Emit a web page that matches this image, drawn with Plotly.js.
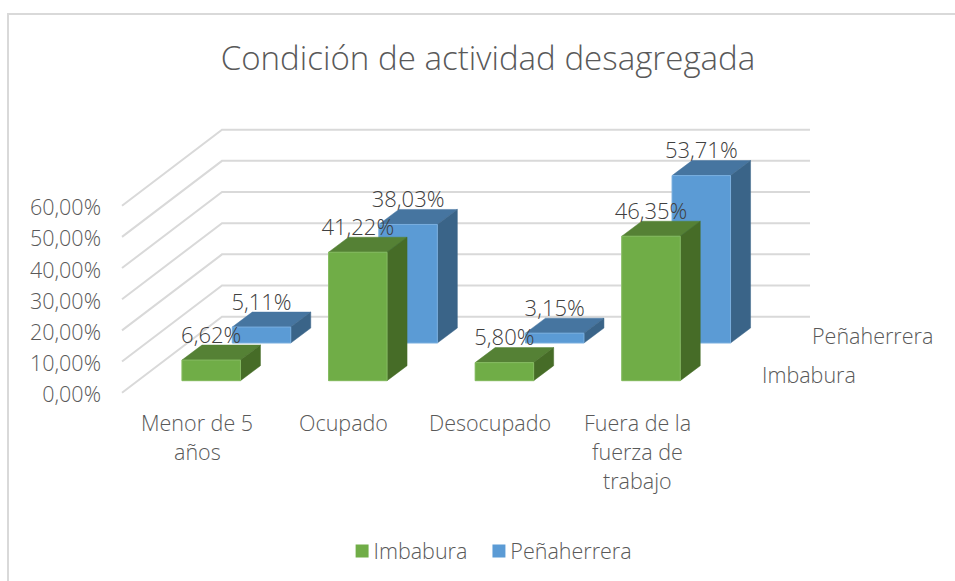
<!DOCTYPE html>
<html><head><meta charset="utf-8">
<script src="https://cdn.plot.ly/plotly-3.0.1.min.js"></script>
<style>
html,body{margin:0;padding:0;background:#fff;overflow:hidden}
#frame{position:absolute;left:7px;top:13px;width:948px;height:568px;border-left:2px solid #d9d9d9;border-top:2px solid #d9d9d9;box-sizing:border-box}
#chart{position:absolute;left:0;top:0;width:955px;height:581px}
</style></head><body>
<div id="frame"></div><div id="chart"></div>
<script>
const categories = [["Menor de 5","años"],["Ocupado"],["Desocupado"],["Fuera de la","fuerza de","trabajo"]];
const imbabura = [6.62,41.22,5.80,46.35];
const penaherrera = [5.11,38.03,3.15,53.71];
const yTicks = [0,10,20,30,40,50,60];
const seriesNames = ["Imbabura","Peñaherrera"];

const FONT = '"Open Sans", sans-serif';
const GREY = '#595959';
const TXT = {family:FONT,size:21.5,color:GREY,weight:300};
// pixel calibration of the axes
const plot = {l:102,r:850,t:100,b:578};
const x0px=197.2, catPx=146.6, y0px=392.7, valPx=3.117;
const xr=[(plot.l-x0px)/catPx,(plot.r-x0px)/catPx];
const yr=[(y0px-plot.b)/valPx,(y0px-plot.t)/valPx];
const pxX=p=>(p-x0px)/catPx, pxY=p=>(y0px-p)/valPx;
const dX=px=>px/catPx, dY=px=>px/valPx;
const barW=dX(58.5);
const fmt=v=>v.toFixed(2).replace('.',',')+'%';
// oblique offset of each row of bars from the floor's front edge, and bar thickness
const rowG={x:dX(14),y:dY(12)}, rowB={x:dX(64.3),y:dY(49.7)}, thick={x:dX(20),y:dY(15)};

function faces(vals,row,colors){
  const xs={front:[],side:[],top:[]}, ys={front:[],side:[],top:[]};
  vals.forEach((v,i)=>{
    const xc=i+row.x, a=xc-barW/2, b=xc+barW/2, f=row.y;
    xs.side.push(b,b+thick.x,b+thick.x,b,b,null); ys.side.push(f,f+thick.y,f+thick.y+v,f+v,f,null);
    xs.top.push(a,a+thick.x,b+thick.x,b,a,null); ys.top.push(f+v,f+v+thick.y,f+v+thick.y,f+v,f+v,null);
    xs.front.push(a,b,b,a,a,null); ys.front.push(f,f,f+v,f+v,f,null);
  });
  return ['top','side','front'].map(k=>({type:'scatter',mode:'lines',x:xs[k],y:ys[k],fill:'toself',fillcolor:colors[k],
      line:{color:k==='front'?colors.edge:colors[k],width:k==='front'?1:0.5},showlegend:false,hoverinfo:'skip'}));
}
const greenC={front:'#70ad47',top:'#558135',side:'#466c27',edge:'#86bb62'};
const blueC={front:'#5b9bd5',top:'#4675a0',side:'#3a6488',edge:'#7aafdf'};

function realBars(vals,row,color,name){
  return {type:'bar',name,x:vals.map((v,i)=>i+row.x),y:vals,base:vals.map(()=>row.y),
    width:barW,marker:{color},hoverinfo:'skip'};
}
function labels(vals,row){
  return {type:'scatter',mode:'text',x:vals.map((v,i)=>i+row.x),
    y:vals.map(v=>row.y+v+dY(23)),
    text:vals.map(fmt),
    textposition:'middle center',textfont:{family:FONT,size:22,color:'#404040',weight:300},
    showlegend:false,hoverinfo:'skip',cliponaxis:false};
}
const gx=[],gy=[];
yTicks.forEach(t=>{
  const s=pxX(122), back=s+dX(100);
  gx.push(s,back,back+dX(588),null);
  gy.push(t,t+dY(76),t+dY(76),null);
});
const grid={type:'scatter',mode:'lines',x:gx,y:gy,line:{color:'#d9d9d9',width:2},showlegend:false,hoverinfo:'skip'};

const data=[
  realBars(imbabura,rowG,greenC.front,seriesNames[0]),
  realBars(penaherrera,rowB,blueC.front,seriesNames[1]),
  grid,
  ...faces(penaherrera,rowB,blueC),
  ...faces(imbabura,rowG,greenC),
  labels(penaherrera,rowB),labels(imbabura,rowG)
];
const annotations=[];
categories.forEach((lines,i)=>lines.forEach((ln,j)=>annotations.push({
  xref:'x',yref:'y',x:i,y:pxY(422+29*j),text:ln,showarrow:false,xanchor:'center',yanchor:'middle',
  font:TXT})));
annotations.push({xref:'x',yref:'y',x:pxX(812),y:pxY(335),text:seriesNames[1],showarrow:false,xanchor:'left',yanchor:'middle',xshift:-2,font:TXT});
annotations.push({xref:'x',yref:'y',x:pxX(762),y:pxY(374),text:seriesNames[0],showarrow:false,xanchor:'left',yanchor:'middle',xshift:-2,font:TXT});

const layout={
  width:955,height:581,autosize:false,paper_bgcolor:'rgba(0,0,0,0)',plot_bgcolor:'rgba(0,0,0,0)',
  barmode:'overlay',
  margin:{l:plot.l,r:955-plot.r,t:plot.t,b:581-plot.b,pad:0},
  title:{text:'Condición de actividad desagregada',x:488/955,xanchor:'center',y:1-58/581,yanchor:'middle',
    font:{family:FONT,size:33.1,color:GREY,weight:300}},
  xaxis:{range:xr,showgrid:false,zeroline:false,showline:false,showticklabels:false,ticks:'',fixedrange:true},
  yaxis:{range:yr,tickmode:'array',tickvals:yTicks,ticktext:yTicks.map(fmt),showgrid:false,zeroline:false,showline:false,
    ticks:'',tickfont:TXT,ticklabelshift:2,fixedrange:true},
  legend:{orientation:'h',x:(486.5-plot.l)/(plot.r-plot.l),xanchor:'center',y:(plot.b-551)/(plot.b-plot.t),yanchor:'middle',
    font:TXT,traceorder:'normal'},
  annotations,showlegend:true
};
Plotly.newPlot('chart',data,layout,{displayModeBar:false,responsive:false}).then(()=>{
  document.querySelectorAll('#chart .legendpoints').forEach(g=>g.setAttribute('transform','translate(7,0) scale(1.08)'));
  const items=document.querySelectorAll('#chart .legend .traces');
  if(items[1]){
    const m=/translate\(([-\d.]+)[ ,]+([-\d.]+)\)/.exec(items[1].getAttribute('transform')||'');
    if(m) items[1].setAttribute('transform',`translate(${+m[1]-2},${m[2]})`);
  }
});
</script></body></html>
